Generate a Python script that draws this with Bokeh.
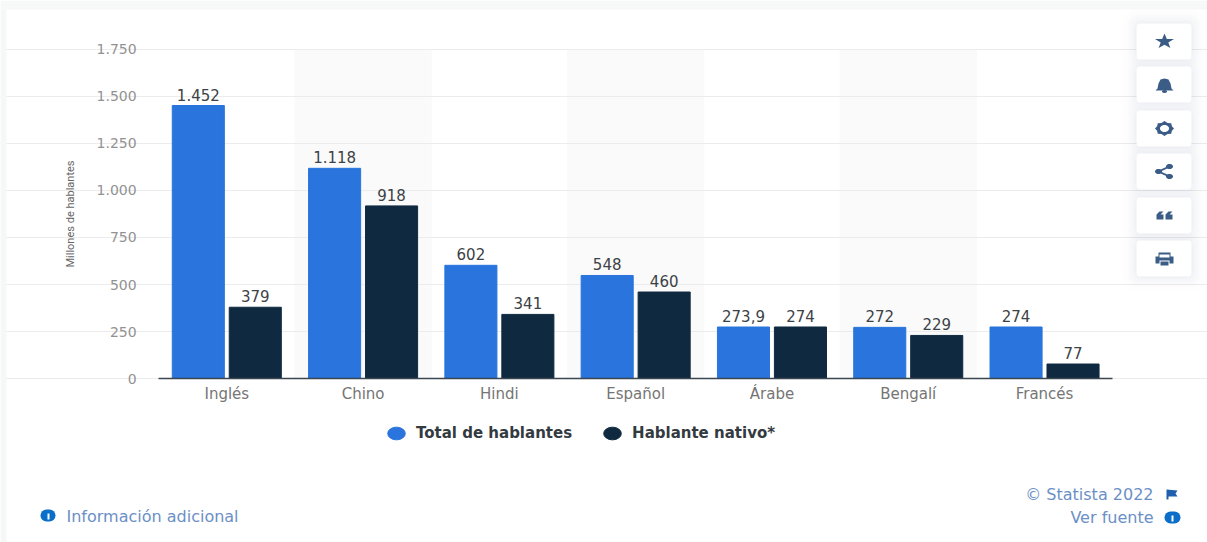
import math
from bokeh.core.properties import value
from bokeh.embed import file_html
from bokeh.models import (BoxAnnotation, ColumnDataSource, FixedTicker, Grid, Label, Legend, LegendItem,
                          LinearAxis, PolyAnnotation, Range1d)
from bokeh.plotting import figure
from bokeh.resources import INLINE
from bokeh.transform import dodge

categories = ["Inglés", "Chino", "Hindi", "Español", "Árabe", "Bengalí", "Francés"]
total_speakers = [1452, 1118, 602, 548, 273.9, 272, 274]
native_speakers = [379, 918, 341, 460, 274, 229, 77]
total_labels = ["1.452", "1.118", "602", "548", "273,9", "272", "274"]
native_labels = ["379", "918", "341", "460", "274", "229", "77"]
y_ticks = [0, 250, 500, 750, 1000, 1250, 1500, 1750]
y_tick_labels = ["0", "250", "500", "750", "1.000", "1.250", "1.500", "1.750"]
striped = ["Chino", "Español", "Bengalí"]
series_names = ["Total de hablantes", "Hablante nativo*"]
y_title = "Millones de hablantes"

BLUE = "#2974dd"
NAVY = "#0f2a40"
ICON = "#3a5c86"
LINK = "#6b8fc6"
FONT = "DejaVu Sans"

positions = list(range(len(categories)))

p = figure(width=1207, height=542,
           x_range=Range1d(-1.6604, 7.1957), y_range=Range1d(-872.3, 2010.6),
           x_axis_location=None, y_axis_location=None,
           output_backend="svg", toolbar_location=None,
           min_border_left=0, min_border_right=0, min_border_top=0, min_border_bottom=0)
p.outline_line_color = None
p.background_fill_color = "white"
p.border_fill_color = "white"
p.grid.visible = False


def box(x0, y0, x1, y1, color, alpha=1.0, radius=0):
    p.add_layout(BoxAnnotation(left=x0, right=x1, top=y0, bottom=y1,
                               left_units="canvas", right_units="canvas",
                               top_units="canvas", bottom_units="canvas",
                               fill_color=color, fill_alpha=alpha, line_color=None,
                               border_radius=radius))


def poly(points, color=ICON):
    p.add_layout(PolyAnnotation(xs=[a for a, _ in points], ys=[b for _, b in points],
                                xs_units="canvas", ys_units="canvas",
                                fill_color=color, fill_alpha=1, line_color=None))


def ell(x, y, rx, ry, color=ICON, n=24):
    poly([(x + rx * math.cos(2 * math.pi * i / n), y + ry * math.sin(2 * math.pi * i / n))
          for i in range(n)], color)


def txt(x, y, s, size, color, align="left", style="normal"):
    p.add_layout(Label(x=x, y=y, x_units="canvas", y_units="canvas", text=s,
                       text_font=FONT, text_font_size=size, text_color=color,
                       text_align=align, text_baseline="middle", text_font_style=style))


# stripes behind the chart
p.vbar(x=[categories.index(c) for c in striped], top=[1750] * len(striped), bottom=0, width=1,
       color="#fafafa", level="image")

src = ColumnDataSource(dict(cat=positions, total=total_speakers, native=native_speakers,
                            tl=total_labels, nl=native_labels))
r1 = p.vbar(x=dodge("cat", -0.209), top="total", bottom=0, width=0.382, color=BLUE, source=src)
r2 = p.vbar(x=dodge("cat", 0.209), top="native", bottom=0, width=0.382, color=NAVY, source=src)
for col, lab, off in (("total", "tl", -0.209), ("native", "nl", 0.209)):
    p.text(x=dodge("cat", off), y=col, text=lab, source=src,
           text_font=value(FONT), text_font_size="15px", text_color="#3c4246",
           text_align="center", text_baseline="bottom", y_offset=-5)

# axes placed inside the full-canvas frame
span = (-0.5, len(categories) - 0.5)
p.add_layout(Grid(dimension=1, ticker=FixedTicker(ticks=y_ticks), bounds=span, grid_line_color="#ececec"))

yaxis = LinearAxis(fixed_location=span[0], bounds=(0, 1750), ticker=FixedTicker(ticks=y_ticks),
                   major_label_overrides=dict(zip(y_ticks, y_tick_labels)),
                   axis_line_color=None, major_tick_line_color=None, minor_tick_line_color=None,
                   major_label_text_font=FONT, major_label_text_font_size="14px",
                   major_label_text_color="#929292", major_label_standoff=16,
                   axis_label=y_title, axis_label_text_font="Roboto",
                   axis_label_text_font_style="normal", axis_label_text_font_size="11px",
                   axis_label_text_color="#666666", axis_label_standoff=16)
p.add_layout(yaxis, "left")

xaxis = LinearAxis(fixed_location=0, bounds=span, ticker=FixedTicker(ticks=positions),
                   major_label_overrides=dict(zip(positions, categories)),
                   axis_line_color="#3b4650", axis_line_width=1.5,
                   major_tick_line_color=None, minor_tick_line_color=None,
                   major_label_text_font=FONT, major_label_text_font_size="15px",
                   major_label_text_color="#757575", major_label_standoff=0)
p.add_layout(xaxis, "below")

# legend with round keys
nan = float("nan")
k1 = p.ellipse(x=[nan], y=[nan], width=18, height=13, width_units="screen", height_units="screen", color=BLUE)
k2 = p.ellipse(x=[nan], y=[nan], width=18, height=13, width_units="screen", height_units="screen", color=NAVY)
legend = Legend(items=[LegendItem(label=series_names[0], renderers=[k1], index=0),
                       LegendItem(label=series_names[1], renderers=[k2], index=0)],
                orientation="horizontal", location=(385, 98), border_line_color=None,
                background_fill_alpha=0, padding=0, margin=0, spacing=29,
                glyph_width=22, glyph_height=22, label_standoff=9,
                label_text_font=FONT, label_text_font_style="bold",
                label_text_font_size="15px", label_text_color="#333a40")
p.add_layout(legend, "center")

# page strips around the card
box(0, 0, 1207, 9, "#f7f8f8")
box(0, 9, 6, 542, "#f6f7f7")

# side buttons with a soft glow
for grow, a in ((14, 0.006), (11, 0.008), (9, 0.010)):
    box(1136 - grow, 23 - grow, 1191 + grow, 276 + grow, "#5a6a85", a, 12)
for y in (23, 66, 110, 153, 197, 240):
    for grow, a in ((7, 0.012), (5, 0.016), (3, 0.02), (1, 0.03)):
        box(1136 - grow, y - grow, 1191 + grow, y + 36 + grow, "#5a6a85", a, 8)
    box(1136, y, 1191, y + 36, "white", 1, 4)

# star
poly([(1164 + (10 if i % 2 == 0 else 4) * math.sin(i * math.pi / 5),
       41 - (8 if i % 2 == 0 else 3.2) * math.cos(i * math.pi / 5)) for i in range(10)])
# bell
poly([(1164, 78), (1168, 79), (1170, 83), (1171, 88), (1173, 90), (1155, 90), (1157, 88),
      (1158, 83), (1160, 79)])
ell(1164, 91, 2.5, 1.5)
# gear
poly([(1164 + (9.5 if i % 2 == 0 else 8) * math.sin(i * math.pi / 8),
       128 - (7.5 if i % 2 == 0 else 6) * math.cos(i * math.pi / 8)) for i in range(16)])
poly([(1164 + 4.5 * math.cos(i * math.pi / 12), 128 + 3.5 * math.sin(i * math.pi / 12))
      for i in range(24)], "white")
# share
ell(1158, 171, 3.5, 2.5)
ell(1169, 166, 3.5, 2.5)
ell(1169, 176, 3.5, 2.5)
poly([(1158, 170), (1169, 165), (1169, 167), (1158, 172)])
poly([(1158, 170), (1169, 175), (1169, 177), (1158, 172)])
# quotes
for x0 in (1156, 1165):
    poly([(x0 + 3, 211), (x0 + 7, 211), (x0 + 4, 214), (x0 + 7, 214), (x0 + 7, 219),
          (x0, 219), (x0, 214)])
# printer
poly([(1158, 252), (1170, 252), (1170, 256), (1173, 256), (1173, 263), (1155, 263),
      (1155, 256), (1158, 256)])
box(1159, 254, 1169, 257, "white")
box(1159, 260, 1169, 265, "white")
box(1160, 261, 1168, 265, ICON)

# footer
box(40, 509, 55, 521, "#0b6fc9", 1, 6)
box(47, 513, 49, 519, "white")
txt(66, 516, "Información adicional", "16px", LINK)
txt(1153, 494, "© Statista 2022", "16px", LINK, "right")
txt(1153, 517, "Ver fuente", "16px", LINK, "right")
box(1164, 511, 1180, 523, "#0b6fc9", 1, 6)
box(1171, 515, 1173, 521, "white")
poly([(1166, 489), (1177, 490), (1175, 493), (1177, 496), (1168, 496), (1168, 499), (1166, 499)], "#1f5fae")

open("out.html", "w").write(file_html(p, INLINE))
